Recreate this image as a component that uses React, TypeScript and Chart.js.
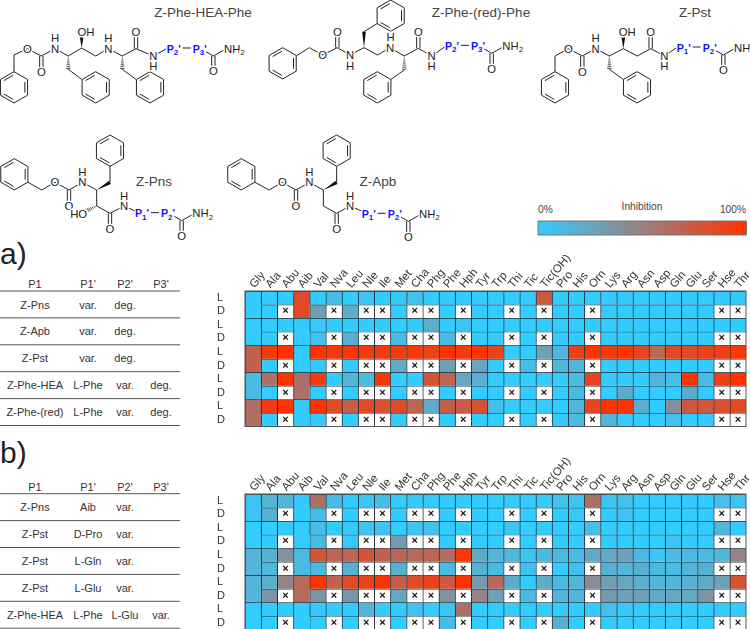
import React, { useEffect, useRef } from "react";
import { Chart, registerables } from "chart.js";

Chart.register(...registerables);

const FONT = '"Liberation Sans", Arial, sans-serif';

const residues = ["Gly","Ala","Abu","Aib","Val","Nva","Leu","Nle","Ile","Met","Cha","Phg","Phe","Hph","Tyr","Trp","Thi","Tic","Tic(OH)","Pro","His","Orn","Lys","Arg","Asn","Asp","Gln","Glu","Ser","Hse","Thr"];
const mergedResidues = ["Gly", "Aib"];
const rowLabels = ["L","D","L","D","L","D","L","D","L","D"];
const _ = null;

// inhibition in %, null = the D form does not exist (x cell)
const aPnsL = [0,0,0,85,0,10,0,5,0,0,8,0,0,0,0,0,0,0,75,0,0,0,0,0,0,0,0,0,0,0,0];
const aPnsD = [0,0,_,85,30,_,20,_,_,0,_,_,0,_,0,0,_,0,_,0,0,_,0,0,0,0,0,0,0,_,_];
const aApbL = [0,0,0,0,3,0,0,0,0,0,0,20,0,5,0,0,0,0,0,0,0,0,0,0,0,0,0,0,0,0,0];
const aApbD = [0,0,_,0,8,_,18,_,_,10,_,_,12,_,0,0,_,0,_,0,0,_,0,0,0,0,0,0,0,_,_];
const aPstL = [70,95,100,0,100,95,98,95,95,95,97,90,100,95,100,88,0,0,28,15,90,100,97,100,88,65,85,85,90,92,97];
const aPstD = [70,0,_,0,0,_,0,_,_,22,_,_,30,_,25,0,_,10,_,15,15,_,0,0,0,0,0,0,0,_,_];
const aHeaL = [12,60,100,60,95,0,15,12,97,0,0,78,68,25,20,0,0,0,0,0,12,88,0,0,0,15,8,100,10,92,100];
const aHeaD = [12,0,_,60,0,_,0,_,_,0,_,_,0,_,0,0,_,0,_,0,12,_,0,20,0,0,0,20,0,_,_];
const aRedL = [62,95,100,0,100,85,72,85,80,85,68,22,72,72,80,8,0,0,0,0,15,88,100,100,20,0,40,75,75,82,85];
const aRedD = [62,0,_,0,0,_,0,_,_,0,_,_,0,_,0,0,_,0,_,0,12,_,15,0,0,0,8,0,0,_,_];

const bAibL = [5,15,15,0,60,10,0,3,10,0,0,0,0,0,0,0,0,0,0,8,5,60,5,8,0,0,0,0,0,8,5];
const bAibD = [5,18,_,0,10,_,0,_,_,0,_,_,0,_,0,0,_,0,_,0,3,_,0,5,0,0,0,0,0,_,_];
const bProL = [0,0,0,0,10,0,3,5,5,0,3,8,0,0,0,0,3,0,0,0,0,8,0,0,0,0,0,0,0,15,0];
const bProD = [0,0,_,0,12,_,3,_,_,32,_,_,0,_,0,0,_,0,_,0,0,_,0,0,0,0,5,0,0,_,_];
const bGlnL = [15,18,38,12,78,68,68,80,70,68,65,68,62,98,22,15,15,5,12,12,10,22,22,28,12,3,12,12,12,15,48];
const bGlnD = [15,12,_,12,12,_,18,_,_,18,_,_,12,_,18,12,_,8,_,0,8,_,18,15,18,12,10,15,18,_,_];
const bGluL = [15,20,48,65,100,70,85,90,100,72,85,90,75,100,32,65,20,0,20,12,15,42,30,25,20,15,15,18,22,28,80];
const bGluD = [15,35,_,65,35,_,35,_,_,25,_,_,38,_,48,28,_,12,_,15,15,_,32,28,30,22,25,25,35,_,_];
const bHeaL = [0,0,0,0,2,0,0,15,0,0,5,0,5,60,0,0,0,0,0,0,0,0,8,0,0,0,0,0,0,0,0];
const bHeaD = [0,0,_,0,0,_,0,_,_,0,_,_,10,_,0,0,_,0,_,20,0,_,0,0,0,0,0,0,0,_,_];

const panelARows = [aPnsL, aPnsD, aApbL, aApbD, aPstL, aPstD, aHeaL, aHeaD, aRedL, aRedD];
const panelBRows = [bAibL, bAibD, bProL, bProD, bGlnL, bGlnD, bGluL, bGluD, bHeaL, bHeaD];

const tableHeader = ["P1", "P1'", "P2'", "P3'"];
const tableA = [
  ["Z-Pns", "var.", "deg.", ""],
  ["Z-Apb", "var.", "deg.", ""],
  ["Z-Pst", "var.", "deg.", ""],
  ["Z-Phe-HEA", "L-Phe", "var.", "deg."],
  ["Z-Phe-(red)", "L-Phe", "var.", "deg."],
];
const tableB = [
  ["Z-Pns", "Aib", "var.", ""],
  ["Z-Pst", "D-Pro", "var.", ""],
  ["Z-Pst", "L-Gln", "var.", ""],
  ["Z-Pst", "L-Glu", "var.", ""],
  ["Z-Phe-HEA", "L-Phe", "L-Glu", "var."],
];

const COLD = [51, 204, 255];
const HOT = [255, 51, 0];
function heat(v: number) {
  const t = v / 100;
  const c = COLD.map((a, i) => Math.round(a + (HOT[i] - a) * t));
  return `rgb(${c[0]},${c[1]},${c[2]})`;
}

const crossPlugin = {
  id: "crossAndFrame",
  afterDatasetsDraw(chart: any) {
    const { ctx, chartArea: a } = chart;
    ctx.save();
    ctx.fillStyle = "#111";
    ctx.font = `bold 11px ${FONT}`;
    ctx.textAlign = "center";
    ctx.textBaseline = "middle";
    chart.data.datasets.forEach((ds: any, i: number) => {
      const meta = chart.getDatasetMeta(i);
      ds.crossFlags.forEach((isCross: boolean, j: number) => {
        if (!isCross) return;
        const el = meta.data[j];
        ctx.fillText("×", el.x, (el.y + el.base) / 2);
      });
    });
    ctx.strokeStyle = "#555";
    ctx.lineWidth = 1;
    ctx.strokeRect(a.left, a.top, a.right - a.left, a.bottom - a.top);
    ctx.restore();
  },
};

function HeatMap({ rows, top }: { rows: (number | null)[][]; top: number }) {
  const ref = useRef<HTMLCanvasElement>(null);
  useEffect(() => {
    const datasets = rows.map((row, r) => ({
      label: `row ${r}`,
      grouped: false,
      barPercentage: 1,
      categoryPercentage: 1,
      data: row.map((v, c) => {
        const merged = mergedResidues.includes(residues[c]);
        if (merged && r % 2 === 1) return null;
        return [r, r + (merged ? 2 : 1)];
      }),
      crossFlags: row.map((v) => v === null),
      backgroundColor: row.map((v) => (v === null ? "#ffffff" : heat(v))),
      borderColor: "rgba(5,25,35,0.9)",
      borderWidth: { left: 1, top: 1, right: 0, bottom: 0 },
      borderSkipped: false,
    }));
    const chart = new Chart(ref.current!, {
      type: "bar",
      data: { labels: residues, datasets: datasets as any },
      plugins: [crossPlugin],
      options: {
        animation: false,
        responsive: false,
        maintainAspectRatio: false,
        layout: { padding: { top: 0, left: 0, right: 4, bottom: 3.5 } },
        plugins: { legend: { display: false }, tooltip: { enabled: false } },
        scales: {
          x: {
            position: "top",
            grid: { display: false },
            border: { display: false },
            afterFit(s: any) { s.height = 56; s.paddingLeft = 0; s.paddingRight = 0; },
            ticks: {
              autoSkip: false, minRotation: 50, maxRotation: 50, padding: -8, labelOffset: 9.5,
              color: "#333", font: { family: FONT, size: 11.5 },
            },
          },
          y: {
            type: "linear", min: 0, max: 10, reverse: true,
            grid: { display: false },
            border: { display: false },
            afterFit(s: any) { s.width = 28; s.paddingTop = 0; s.paddingBottom = 0; },
            afterBuildTicks(s: any) { s.ticks = rowLabels.map((_l, i) => ({ value: i + 0.5 })); },
            ticks: {
              autoSkip: false, padding: 16, crossAlign: "far", color: "#333",
              font: { family: FONT, size: 11 },
              callback: (v: any) => rowLabels[Math.floor(v)],
            },
          },
        },
      } as any,
    });
    return () => chart.destroy();
  }, [rows]);
  return <canvas ref={ref} width={533} height={195} style={{ position: "absolute", left: 217, top, display: "block" }} />;
}

/* ---- structure drawing helpers, units are thirds of a pixel ---- */
const INK = "#222";
const BLUE = "#1414ff";
type P = [number, number];

function Bonds({ pts }: { pts: P[] }) {
  return <polyline points={pts.map((p) => p.join(",")).join(" ")} fill="none" stroke={INK} strokeWidth={3} strokeLinejoin="round" />;
}
function Dbl({ a, b }: { a: P; b: P }) {
  const dx = b[0] - a[0], dy = b[1] - a[1], l = Math.hypot(dx, dy);
  const nx = (-dy / l) * 5, ny = (dx / l) * 5;
  return (
    <g stroke={INK} strokeWidth={3}>
      <line x1={a[0] + nx} y1={a[1] + ny} x2={b[0] + nx} y2={b[1] + ny} />
      <line x1={a[0] - nx} y1={a[1] - ny} x2={b[0] - nx} y2={b[1] - ny} />
    </g>
  );
}
function Ring({ c }: { c: P }) {
  const r = 47;
  const v: P[] = [0, 1, 2, 3, 4, 5].map((i) => {
    const t = (-90 + 60 * i) * Math.PI / 180;
    return [c[0] + r * Math.cos(t), c[1] + r * Math.sin(t)];
  });
  const inner = [[1, 2], [3, 4], [5, 0]].map(([i, j]) => {
    const sh = (p: P): P => [c[0] + (p[0] - c[0]) * 0.8, c[1] + (p[1] - c[1]) * 0.8];
    const a = sh(v[i]), b = sh(v[j]);
    const mx = (a[0] + b[0]) / 2, my = (a[1] + b[1]) / 2;
    return [a[0] + (mx - a[0]) * 0.15, a[1] + (my - a[1]) * 0.15, b[0] + (mx - b[0]) * 0.15, b[1] + (my - b[1]) * 0.15];
  });
  return (
    <g>
      <polygon points={v.map((p) => p.join(",")).join(" ")} fill="none" stroke={INK} strokeWidth={3} />
      {inner.map((l, i) => <line key={i} x1={l[0]} y1={l[1]} x2={l[2]} y2={l[3]} stroke={INK} strokeWidth={3} />)}
    </g>
  );
}
function Wedge({ a, b }: { a: P; b: P }) {
  const dx = b[0] - a[0], dy = b[1] - a[1], l = Math.hypot(dx, dy);
  const nx = (-dy / l) * 5.5, ny = (dx / l) * 5.5;
  return <polygon points={`${a[0]},${a[1]} ${b[0] + nx},${b[1] + ny} ${b[0] - nx},${b[1] - ny}`} fill="#111" />;
}
function Hash({ a, b }: { a: P; b: P }) {
  const dx = b[0] - a[0], dy = b[1] - a[1], l = Math.hypot(dx, dy);
  const n = 7;
  return (
    <g stroke={INK} strokeWidth={2.4}>
      {Array.from({ length: n }, (_x, i) => {
        const t = (i + 0.6) / n, w = 1 + t * 6;
        const x = a[0] + dx * t, y = a[1] + dy * t;
        return <line key={i} x1={x - (dy / l) * w} y1={y + (dx / l) * w} x2={x + (dy / l) * w} y2={y - (dx / l) * w} />;
      })}
    </g>
  );
}
function Atom({ x, y, t, sub, anchor = "middle" }: { x: number; y: number; t: string; sub?: string; anchor?: any }) {
  return (
    <text x={x} y={y + 12} textAnchor={anchor} fontFamily={FONT} fontSize={34} fill={INK} stroke="#fff" strokeWidth={9} paintOrder="stroke">
      {t}{sub ? <tspan fontSize={24} dy={7}>{sub}</tspan> : null}
    </text>
  );
}
function Pos({ x, y, n }: { x: number; y: number; n: string }) {
  return (
    <text x={x} y={y + 12} fontFamily={FONT} fontSize={32} fontWeight="bold" fill={BLUE} stroke="#fff" strokeWidth={7} paintOrder="stroke">
      P<tspan fontSize={24} dy={7}>{n}</tspan><tspan dy={-7}>'</tspan>
    </text>
  );
}
function Tail({ x, y, a, b }: { x: number; y: number; a: string; b: string }) {
  return (
    <g>
      <Bonds pts={[[x + 118, y + 9], [x + 140, y + 22], [x + 172, y + 4]]} />
      <Dbl a={[x + 140, y + 22]} b={[x + 140, y + 55]} />
      <line x1={x + 48} y1={y - 2} x2={x + 72} y2={y - 2} stroke={INK} strokeWidth={3} />
      <Pos x={x} y={y} n={a} />
      <Pos x={x + 78} y={y} n={b} />
      <Atom x={x + 140} y={y + 68} t="O" />
      <Atom x={x + 172} y={y} t="NH" sub="2" anchor="start" />
    </g>
  );
}

function Structures() {
  return (
    <g transform="scale(0.33333)">
      {/* Z-Phe-HEA-Phe */}
      <Ring c={[42, 262]} /><Ring c={[287, 262]} /><Ring c={[450, 262]} />
      <Bonds pts={[[42, 215], [42, 165], [82, 146], [124, 168], [165, 146], [205, 168], [245, 144], [287, 168], [325, 146], [367, 168], [408, 146], [460, 168], [500, 146]]} />
      <Dbl a={[124, 168]} b={[124, 205]} /><Dbl a={[408, 146]} b={[408, 105]} />
      <Hash a={[205, 168]} b={[205, 208]} /><Bonds pts={[[205, 208], [245, 238]]} />
      <Hash a={[367, 168]} b={[367, 208]} /><Bonds pts={[[367, 208], [408, 238]]} />
      <Wedge a={[245, 144]} b={[245, 112]} />
      <Atom x={82} y={146} t="O" /><Atom x={124} y={215} t="O" /><Atom x={165} y={146} t="N" /><Atom x={165} y={115} t="H" />
      <Atom x={258} y={97} t="OH" /><Atom x={325} y={146} t="N" /><Atom x={325} y={115} t="H" /><Atom x={408} y={97} t="O" />
      <Atom x={460} y={168} t="N" /><Atom x={460} y={197} t="H" />
      <Tail x={500} y={146} a="2" b="3" />

      {/* Z-Phe-(red)-Phe */}
      <Ring c={[848, 190]} /><Ring c={[1172, 47]} /><Ring c={[1132, 262]} />
      <Bonds pts={[[890, 167], [928, 143], [968, 165], [1012, 143], [1050, 165], [1092, 143], [1133, 165], [1170, 143], [1213, 168], [1255, 145], [1295, 168], [1335, 140]]} />
      <Dbl a={[1012, 143]} b={[1012, 105]} /><Dbl a={[1255, 145]} b={[1255, 105]} />
      <Wedge a={[1092, 143]} b={[1092, 95]} /><Bonds pts={[[1092, 95], [1131, 71]]} />
      <Hash a={[1213, 168]} b={[1213, 210]} /><Bonds pts={[[1213, 210], [1173, 238]]} />
      <Atom x={968} y={165} t="O" /><Atom x={1012} y={97} t="O" /><Atom x={1050} y={165} t="N" /><Atom x={1050} y={197} t="H" />
      <Atom x={1170} y={143} t="N" /><Atom x={1172} y={112} t="H" /><Atom x={1255} y={97} t="O" /><Atom x={1295} y={168} t="N" /><Atom x={1295} y={197} t="H" />
      <Tail x={1335} y={138} a="2" b="3" />

      {/* Z-Pst */}
      <Ring c={[1665, 262]} /><Ring c={[1911, 262]} />
      <Bonds pts={[[1665, 215], [1665, 168], [1705, 146], [1747, 168], [1787, 146], [1828, 168], [1870, 146], [1912, 168], [1952, 146], [1993, 168], [2030, 143]]} />
      <Dbl a={[1747, 168]} b={[1747, 205]} /><Dbl a={[1952, 146]} b={[1952, 105]} />
      <Hash a={[1828, 168]} b={[1828, 208]} /><Bonds pts={[[1828, 208], [1870, 238]]} />
      <Wedge a={[1870, 146]} b={[1870, 112]} />
      <Atom x={1705} y={146} t="O" /><Atom x={1747} y={215} t="O" /><Atom x={1787} y={146} t="N" /><Atom x={1787} y={115} t="H" />
      <Atom x={1882} y={97} t="OH" /><Atom x={1952} y={97} t="O" /><Atom x={1993} y={168} t="N" /><Atom x={1993} y={197} t="H" />
      <Tail x={2030} y={143} a="1" b="2" />

      {/* Z-Pns */}
      <g transform="translate(0,390)">
        <Ring c={[43, 133]} /><Ring c={[330, 62]} />
        <Bonds pts={[[84, 157], [125, 180], [165, 157], [207, 180], [247, 157], [290, 180], [290, 228], [330, 250], [372, 228], [405, 243]]} />
        <Dbl a={[207, 180]} b={[207, 218]} /><Dbl a={[330, 250]} b={[330, 290]} />
        <Wedge a={[290, 180]} b={[330, 157]} /><Bonds pts={[[330, 157], [330, 109]]} />
        <Hash a={[290, 228]} b={[258, 243]} />
        <Atom x={165} y={157} t="O" /><Atom x={207} y={228} t="O" /><Atom x={247} y={157} t="N" /><Atom x={247} y={125} t="H" />
        <Atom x={236} y={253} t="HO" /><Atom x={330} y={298} t="O" /><Atom x={372} y={228} t="N" /><Atom x={372} y={197} t="H" />
        <Tail x={405} y={250} a="1" b="2" />
      </g>

      {/* Z-Apb */}
      <g transform="translate(0,390)">
        <Ring c={[724, 133]} /><Ring c={[1010, 62]} />
        <Bonds pts={[[765, 157], [807, 180], [847, 157], [888, 180], [928, 157], [970, 180], [970, 228], [1010, 250], [1050, 228], [1085, 243]]} />
        <Dbl a={[888, 180]} b={[888, 218]} /><Dbl a={[1010, 250]} b={[1010, 290]} />
        <Wedge a={[970, 180]} b={[1010, 157]} /><Bonds pts={[[1010, 157], [1010, 109]]} />
        <Atom x={847} y={157} t="O" /><Atom x={888} y={228} t="O" /><Atom x={928} y={157} t="N" /><Atom x={928} y={125} t="H" />
        <Atom x={1010} y={298} t="O" /><Atom x={1050} y={228} t="N" /><Atom x={1050} y={197} t="H" />
        <Tail x={1085} y={252} a="1" b="2" />
      </g>
    </g>
  );
}

function Title({ x, y, t }: { x: number; y: number; t: string }) {
  return <text x={x} y={y} textAnchor="middle" fontFamily={FONT} fontSize={13.5} fill="#444">{t}</text>;
}

const colX = [35, 88, 125, 161];

function Table({ rows, headerY, lineY }: { rows: string[][]; headerY: number; lineY: number }) {
  return (
    <g fontFamily={FONT} fontSize={11} fill="#333" textAnchor="middle">
      {tableHeader.map((h, i) => <text key={h} x={colX[i]} y={headerY}>{h}</text>)}
      {[0, 1, 2, 3, 4, 5].map((i) => (
        <line key={i} x1={0} x2={180} y1={lineY + i * 26.9} y2={lineY + i * 26.9} stroke="#555" strokeWidth={1} />
      ))}
      {rows.map((r, i) => r.map((c, j) => (
        <text key={j} x={colX[j]} y={lineY + 17.5 + i * 26.9}>{c}</text>
      )))}
    </g>
  );
}

export default function App() {
  return (
    <div style={{ position: "absolute", left: 0, top: 0, width: 750, height: 629, overflow: "hidden", background: "#fff" }}>
      <svg width={750} height={629} style={{ position: "absolute", left: 0, top: 0, display: "block" }}>
        <defs>
          <linearGradient id="heatbar">
            <stop offset="0" stopColor={heat(0)} />
            <stop offset="1" stopColor={heat(100)} />
          </linearGradient>
        </defs>
        <Structures />
        <Title x={203} y={17} t="Z-Phe-HEA-Phe" />
        <Title x={481} y={17} t="Z-Phe-(red)-Phe" />
        <Title x={695} y={17} t="Z-Pst" />
        <Title x={154} y={186} t="Z-Pns" />
        <Title x={378} y={186} t="Z-Apb" />
        <g fontFamily={FONT} fontSize={10.2} fill="#444">
          <text x={538} y={213}>0%</text>
          <text x={642} y={210} textAnchor="middle">Inhibition</text>
          <text x={746} y={213} textAnchor="end">100%</text>
        </g>
        <rect x={538} y={221} width={208.5} height={14} fill="url(#heatbar)" stroke="#777" strokeWidth={1} />
        <g fontFamily={FONT} fontSize={30} fill="#222">
          <text x={0} y={264}>a)</text>
          <text x={0} y={463}>b)</text>
        </g>
        <Table rows={tableA} headerY={288} lineY={291} />
        <Table rows={tableB} headerY={490.5} lineY={493.7} />
      </svg>
      <HeatMap rows={panelARows} top={235} />
      <HeatMap rows={panelBRows} top={437.5} />
    </div>
  );
}
